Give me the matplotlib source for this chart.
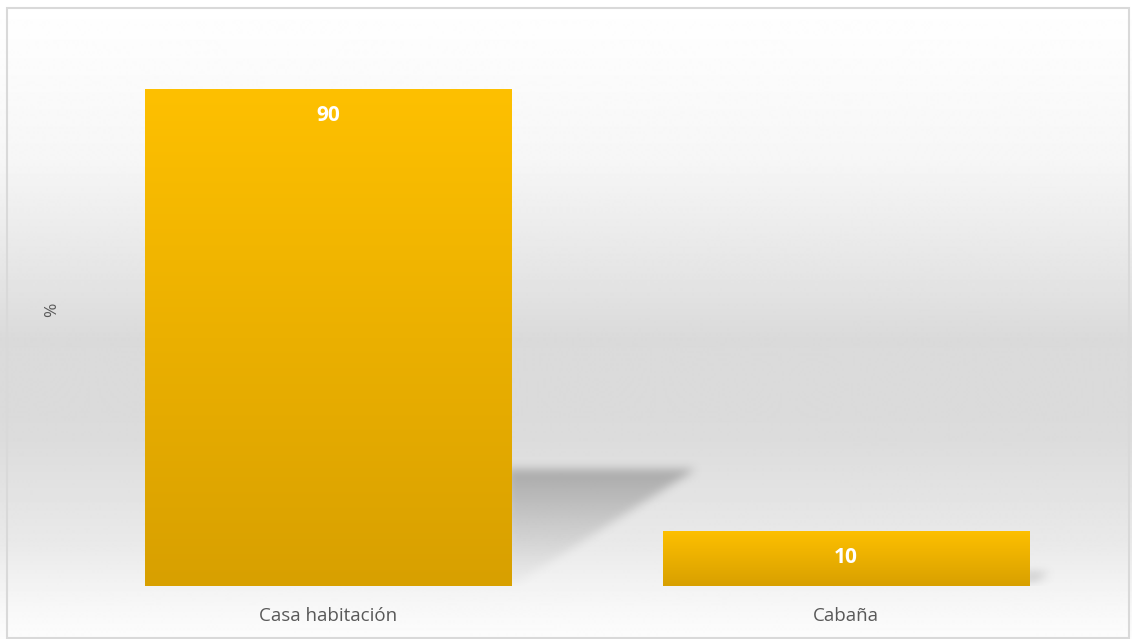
import numpy as np
import matplotlib
matplotlib.use("Agg")
import matplotlib.pyplot as plt
from matplotlib.colors import LinearSegmentedColormap
from matplotlib.patches import Rectangle

categories = ["Casa habitación", "Cabaña"]
values = [90, 10]
y_label = "%"

W, H = 1132, 639
fig = plt.figure(figsize=(W / 100, H / 100), dpi=100)
fig.patch.set_facecolor("white")

# background gradient over the whole chart area
bg = fig.add_axes([0, 0, 1, 1], zorder=0)
bg.set_axis_off()
ys = np.linspace(0, 1, 640)  # 0 = top
stops_y = [0.0, 0.08, 0.25, 0.45, 0.53, 0.68, 0.85, 0.95, 1.0]
stops_v = [1.0, 0.99, 0.965, 0.89, 0.855, 0.86, 0.915, 0.97, 0.99]
g = np.interp(ys, stops_y, stops_v)
img = np.repeat(g[:, None], 2, axis=1)
bg.imshow(img, cmap="gray", vmin=0, vmax=1, extent=[0, 1, 0, 1], aspect="auto",
          origin="upper", interpolation="bilinear")
bg.set_xlim(0, 1)
bg.set_ylim(0, 1)

# border
fig.patches.append(Rectangle((7 / W, 1 / H), 1122 / W, 630 / H, transform=fig.transFigure,
                             fill=False, edgecolor="#d9d9d9", linewidth=1.5, zorder=5))

ax = fig.add_axes([69.75 / W, 53 / H, 1035 / W, 552 / H], zorder=1)
ax.patch.set_alpha(0)
x = np.arange(len(categories))
width = 0.709
bars = ax.bar(x, values, width=width, color="none", edgecolor="none", zorder=3)
ax.set_xlim(-0.5, len(categories) - 0.5)
ax.set_ylim(0, 100)

# shadows (soft triangles cast to the right of each bar)
nx, ny = 1035, 552
gx = np.linspace(-0.5, len(categories) - 0.5, nx)
gy = np.linspace(0, 100, ny)
XX, YY = np.meshgrid(gx, gy)
mask = np.zeros_like(XX)
for b, v in zip(bars, values):
    xr = b.get_x() + b.get_width()
    hs = v * 0.235
    d = v * 0.00395
    inside = (XX >= xr - 0.01) & (YY >= 0) & (YY <= hs)
    if hs > 0:
        inside &= (XX - xr) <= d * (YY / hs)
    frac = np.clip(YY / max(hs, 1e-9), 0, 1)
    mask = np.maximum(mask, inside * (0.1 + 0.9 * frac ** 1.3))
def blur(a, k, axis):
    ker = np.ones(k) / k
    return np.apply_along_axis(lambda m: np.convolve(m, ker, mode="same"), axis, a)
for _ in range(3):
    mask = blur(mask, 9, 1)
    mask = blur(mask, 9, 0)
shadow = np.zeros((ny, nx, 4))
shadow[..., :3] = 0.45
shadow[..., 3] = mask * 0.5
ax.imshow(shadow, extent=[gx[0], gx[-1], 0, 100], origin="lower", aspect="auto", zorder=2)

# gradient fill for bars
cmap = LinearSegmentedColormap.from_list("gold", ["#d8a000", "#fec000"])
grad = np.linspace(0, 1, 256)[:, None]
for b in bars:
    im = ax.imshow(grad, cmap=cmap, origin="lower", aspect="auto",
                   extent=[b.get_x(), b.get_x() + b.get_width(), 0, b.get_height()], zorder=3)
    im.set_clip_path(b)

for b, v in zip(bars, values):
    ax.annotate(f"{v}", (b.get_x() + b.get_width() / 2, v), xytext=(0, -19),
                textcoords="offset points", ha="center", va="center",
                color="white", fontsize=15, fontweight="bold", family="Open Sans", zorder=4)

ax.set_xticks(x)
ax.set_xticklabels(categories, fontsize=13.5, color="#595959", family="Open Sans")
ax.tick_params(axis="x", length=0, pad=15)
ax.set_yticks([])
for s in ax.spines.values():
    s.set_visible(False)
ax.set_ylabel(y_label, fontsize=12.5, color="#595959", family="Open Sans")
ax.yaxis.set_label_coords(-0.009, 0.5)
ax.set_xlim(-0.5, len(categories) - 0.5)
ax.set_ylim(0, 100)

fig.savefig("out.png", dpi=100)
